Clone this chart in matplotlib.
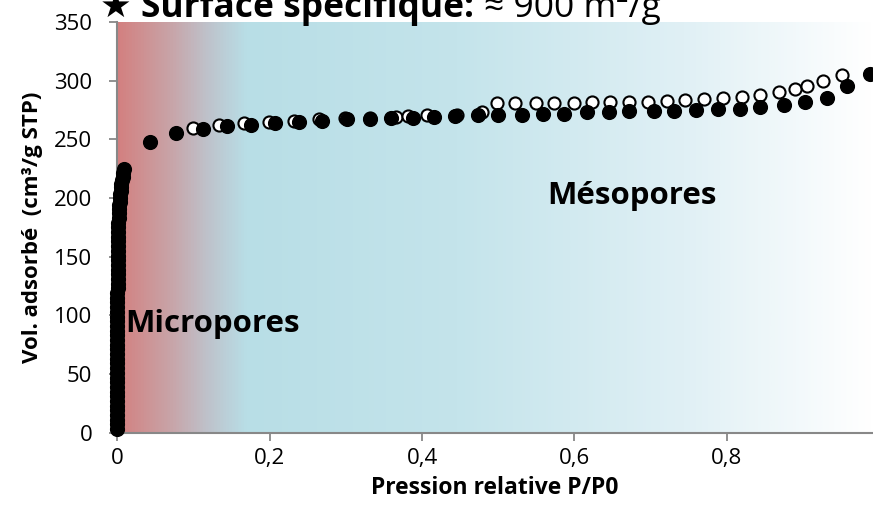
import numpy as np
import matplotlib
matplotlib.use("Agg")
import matplotlib.pyplot as plt
from matplotlib.colors import LinearSegmentedColormap
from matplotlib.ticker import FuncFormatter

plt.rcParams['font.family'] = ['Open Sans', 'DejaVu Sans']

# adsorption branch (filled), micropore filling at P/P0 ~ 0
micro_p = [0.0001, 0.0001, 0.0001, 0.0001, 0.0001, 0.0001, 0.0001, 0.0001,
           0.0001, 0.0001, 0.0001, 0.0001, 0.0001, 0.0001, 0.0001, 0.0001,
           0.0001, 0.0001, 0.0001, 0.0001, 0.0001, 0.0001, 0.0001, 0.0002,
           0.0002, 0.0002, 0.0002, 0.0002, 0.0002, 0.0002, 0.0003, 0.0003,
           0.0003, 0.0003, 0.0004, 0.0004, 0.0005, 0.0005, 0.0006, 0.0007,
           0.0008, 0.0009, 0.0010, 0.0012, 0.0015, 0.0018, 0.0020, 0.0024,
           0.0028, 0.0032, 0.0035, 0.0040, 0.0045, 0.0050, 0.0055, 0.0062,
           0.0070, 0.0080, 0.0090]
micro_v = [3, 7, 11, 15, 19, 23, 27, 31, 35, 39, 43, 47, 51, 55, 59, 63, 67,
           71, 75, 79, 83, 87, 91, 95, 99, 103, 107, 111, 115, 119, 123, 127,
           131, 135, 139, 143, 147, 151, 155, 159, 163, 167, 171, 175, 179,
           183, 187, 191, 194, 197, 200, 203, 206, 209, 212, 215, 218, 221,
           225]
ads_p = [0.043, 0.077, 0.113, 0.144, 0.176, 0.207, 0.239, 0.269, 0.301,
         0.332, 0.359, 0.388, 0.416, 0.443, 0.473, 0.500, 0.531, 0.559,
         0.586, 0.616, 0.645, 0.672, 0.704, 0.731, 0.759, 0.789, 0.818,
         0.844, 0.875, 0.903, 0.931, 0.958, 0.988]
ads_v = [248, 255, 259, 261, 262, 264, 265, 266, 267, 267, 268, 268.5, 269,
         269.5, 271, 271, 271, 272, 272, 273, 273, 274, 274.5, 274.5, 275,
         276, 276, 277.5, 279.5, 282, 285, 295.5, 306]

# desorption branch (open)
des_p = [0.100, 0.133, 0.166, 0.199, 0.232, 0.265, 0.299, 0.332, 0.366,
         0.381, 0.406, 0.446, 0.479, 0.498, 0.522, 0.549, 0.573, 0.599,
         0.623, 0.647, 0.672, 0.696, 0.721, 0.745, 0.770, 0.795, 0.820,
         0.844, 0.868, 0.890, 0.905, 0.927, 0.951]
des_v = [260, 262, 264, 265, 266, 267, 268, 268, 269, 270, 271, 271, 273.5,
         281, 281, 281, 281, 281, 281.5, 281.5, 282, 282, 283, 283.5, 284,
         285, 286, 288, 290, 292.5, 295.5, 299.5, 304.5]

x_max = 0.992
y_max = 350

fig = plt.figure(figsize=(8.73, 5.2), dpi=100)
ax = fig.add_axes([117.3 / 873, 1 - 432.7 / 520, 1 - 117.3 / 873, 410.7 / 520])

# background gradient: red (micro) -> blue -> white (meso)
bg = LinearSegmentedColormap.from_list('bg', [
    (0.0, '#d38080'), (0.07, '#c8a4a8'), (0.12, '#bec3cc'),
    (0.17, '#b8dee6'), (0.45, '#c4e4eb'), (0.75, '#e0f0f5'),
    (1.0, '#ffffff')])
ax.imshow(np.linspace(0, 1, 512).reshape(1, -1), extent=[0, x_max, 0, y_max],
          aspect='auto', cmap=bg, zorder=0)

ax.scatter(des_p, des_v, s=76, facecolor='white', edgecolor='black',
           linewidth=1.5, zorder=3, clip_on=False)
ax.scatter(micro_p + ads_p, micro_v + ads_v, s=98, color='black', zorder=4,
           clip_on=False)

ax.set_xlim(0, x_max)
ax.set_ylim(0, y_max)
ax.set_xticks([0, 0.2, 0.4, 0.6, 0.8])
ax.set_yticks(range(0, 351, 50))
ax.xaxis.set_major_formatter(FuncFormatter(
    lambda v, _: '0' if v == 0 else f'{v:.1f}'.replace('.', ',')))

for side in ['top', 'right']:
    ax.spines[side].set_visible(False)
for side in ['left', 'bottom']:
    ax.spines[side].set_color('#888888')
    ax.spines[side].set_linewidth(1.5)
ax.tick_params(axis='both', direction='out', length=6, width=1.3,
               color='#888888', labelsize=16)
ax.tick_params(axis='y', pad=12)
ax.tick_params(axis='x', pad=5)

ax.set_xlabel('Pression relative P/P0', fontsize=16.5, fontweight='bold',
              labelpad=5)
ax.set_ylabel('Vol. adsorbé  (cm³/g STP)', fontsize=16, fontweight='bold',
              labelpad=8)

ax.text(0.01, 93, 'Micropores', fontsize=22.5, fontweight='bold',
        va='center', ha='left', zorder=5)
ax.text(0.564, 202, 'Mésopores', fontsize=22.5, fontweight='bold',
        va='center', ha='left', zorder=5)

# title, partly cut by the top edge
t1 = fig.text(100 / 873, 1 - 17 / 520, '★ Surface spécifique:', fontsize=25.5,
              fontweight='bold', va='baseline', ha='left')
fig.canvas.draw()
bb = t1.get_window_extent()
fig.text(bb.x1 / fig.bbox.width + 0.012, 1 - 17 / 520, '≈ 900 m²/g',
         fontsize=25.5, va='baseline', ha='left')

fig.savefig('out.png', dpi=100)
